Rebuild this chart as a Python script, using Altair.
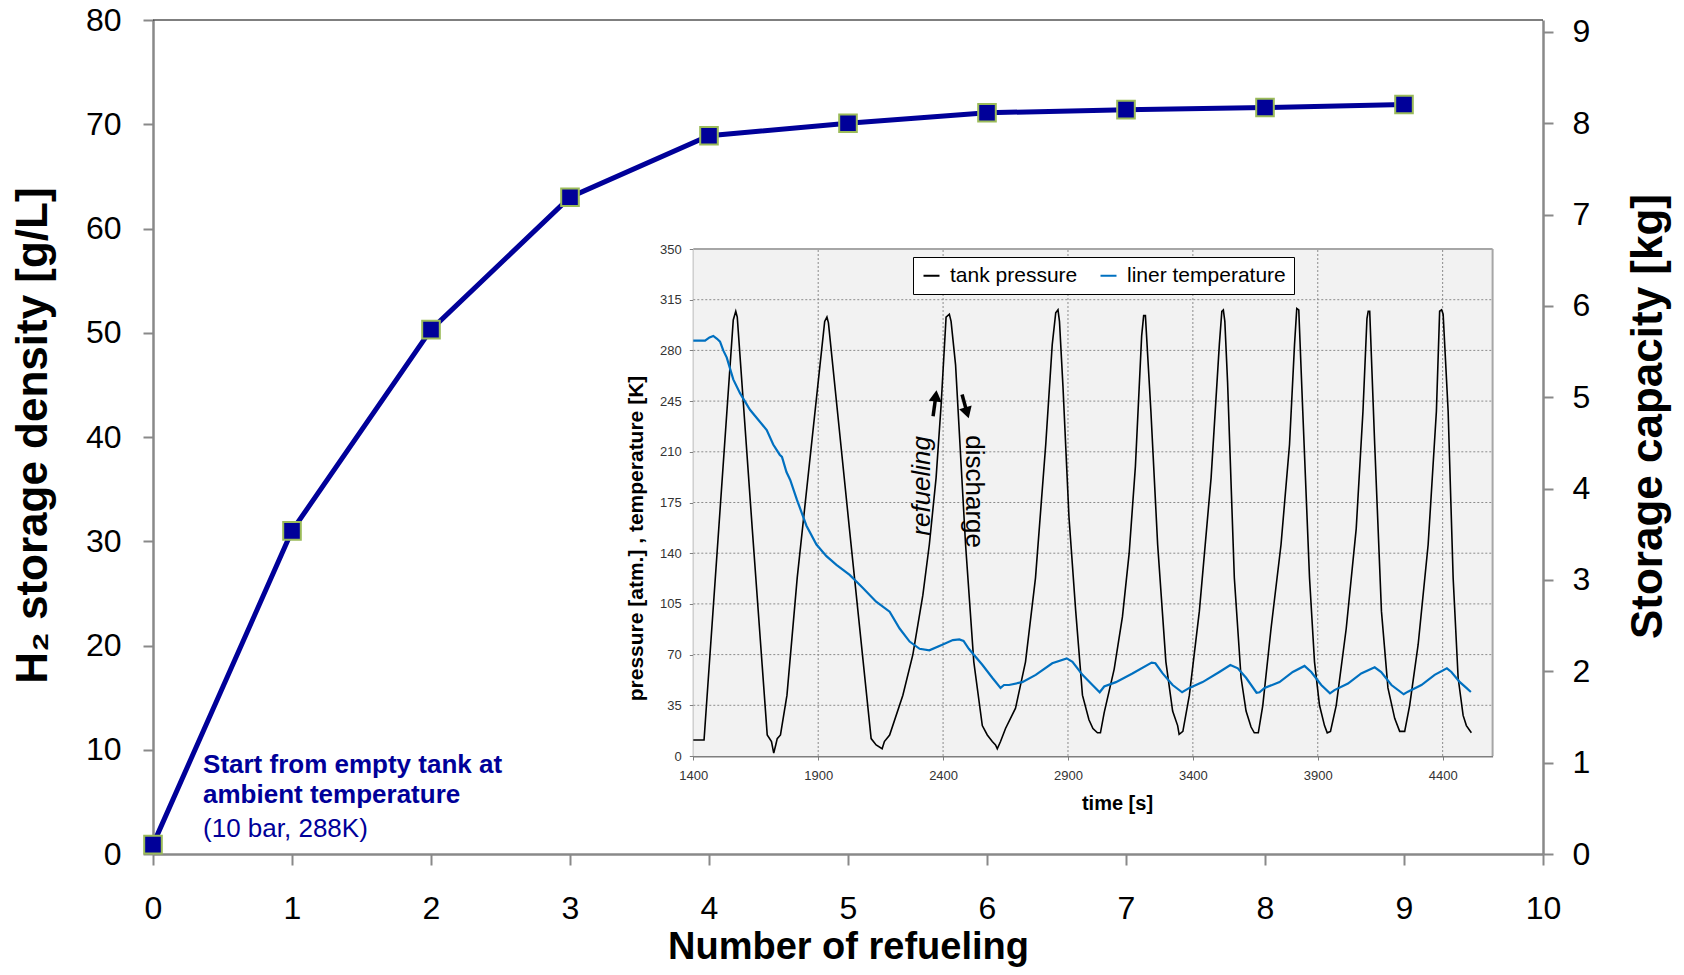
import altair as alt
import pandas as pd

FONT = "Liberation Sans"
NAVY = "#000099"
AX_GRAY = "#898989"

# ---------------- main chart data ----------------
refuel_count = [0, 1, 2, 3, 4, 5, 6, 7, 8, 9]
storage_density = [0.9, 31.0, 50.3, 63.0, 68.9, 70.1, 71.1, 71.4, 71.6, 71.9]
refuel_ticks = [0, 1, 2, 3, 4, 5, 6, 7, 8, 9, 10]
density_ticks = [0, 10, 20, 30, 40, 50, 60, 70, 80]
capacity_ticks = [0, 1, 2, 3, 4, 5, 6, 7, 8, 9]

note_bold = ["Start from empty tank at", "ambient temperature"]
note_bold_y = [7.8, 4.85]
note_plain = ["(10 bar, 288K)"]
note_plain_y = [1.6]
note_x = 0.36

# ---------------- inset data ----------------
pressure_points = [
    (1400, 11), (1443, 11), (1560, 301), (1570, 307), (1576, 303), (1636, 157),
    (1696, 14.5), (1713, 10), (1722, 2), (1730, 7.6), (1736, 12), (1749, 14.5),
    (1775, 42), (1816, 123), (1926, 300), (1935, 303), (1941, 299), (2025, 157),
    (2112, 12), (2132, 7.6), (2156, 5), (2165, 10), (2186, 14.5), (2239, 42),
    (2279, 70), (2319, 111), (2345, 146), (2372, 192), (2392, 242), (2412, 303),
    (2425, 305), (2432, 300), (2450, 270), (2490, 146), (2523, 65), (2557, 21),
    (2577, 14.5), (2597, 10), (2610, 7.6), (2617, 5), (2630, 10), (2650, 19),
    (2690, 33), (2730, 65), (2770, 123), (2811, 215), (2837, 284), (2851, 306),
    (2860, 308), (2866, 300), (2880, 255), (2904, 165), (2931, 100), (2958, 42),
    (2984, 25), (3000, 19), (3018, 16), (3030, 16), (3045, 30), (3085, 60),
    (3118, 96), (3145, 140), (3170, 200), (3195, 290), (3203, 304), (3210, 304),
    (3232, 238), (3259, 146), (3292, 65), (3319, 31), (3339, 21), (3345, 15),
    (3360, 17), (3386, 42), (3426, 100), (3473, 192), (3506, 284), (3516, 307),
    (3522, 308), (3528, 300), (3539, 258), (3566, 123), (3593, 54), (3613, 31),
    (3633, 20), (3646, 16), (3662, 16), (3680, 35), (3713, 88), (3753, 146),
    (3787, 215), (3807, 284), (3816, 309), (3824, 308), (3840, 238), (3867, 123),
    (3887, 65), (3907, 35), (3927, 21), (3938, 16), (3951, 17), (3974, 35),
    (4014, 88), (4054, 157), (4081, 238), (4097, 302), (4102, 307), (4108, 307),
    (4128, 215), (4155, 100), (4181, 47), (4208, 26), (4228, 17), (4248, 17),
    (4268, 35), (4302, 77), (4342, 146), (4375, 238), (4388, 307), (4396, 308),
    (4402, 305), (4422, 238), (4442, 123), (4462, 54), (4482, 28), (4495, 21),
    (4515, 16),
]
temperature_points = [
    (1400, 286.7), (1447, 286.7), (1465, 289), (1480, 290), (1495, 288),
    (1507, 286), (1520, 280), (1534, 275), (1560, 260), (1587, 250.5),
    (1627, 239), (1694, 225), (1720, 215), (1746, 208), (1755, 206.5),
    (1773, 196), (1788, 190.6), (1815, 176.8), (1853, 159), (1893, 146),
    (1933, 138), (1973, 132), (2026, 125), (2079, 116), (2132, 106.5),
    (2186, 99.6), (2226, 88), (2266, 79), (2306, 74), (2345, 73), (2399, 77),
    (2439, 80), (2465, 80.5), (2482, 79.5), (2503, 74), (2557, 63), (2597, 54),
    (2630, 47), (2644, 49), (2664, 49), (2717, 51), (2771, 56), (2837, 64),
    (2895, 67.4), (2918, 65), (2958, 56), (2998, 49), (3027, 44), (3045, 48),
    (3092, 51), (3158, 57), (3235, 64.5), (3250, 64), (3279, 57), (3319, 49),
    (3357, 44), (3386, 47), (3439, 51), (3506, 58), (3550, 62.8), (3580, 60.5),
    (3613, 54), (3655, 43.7), (3667, 44), (3687, 47), (3747, 51), (3800, 58),
    (3847, 62.2), (3874, 58), (3914, 49), (3949, 43.3), (3967, 45.5),
    (4021, 50), (4074, 57), (4128, 61.2), (4154, 58), (4195, 49), (4244, 42.6),
    (4261, 44.4), (4315, 49), (4368, 56), (4417, 60.5), (4435, 58), (4469, 51),
    (4495, 47), (4513, 44.2),
]
time_ticks = [1400, 1900, 2400, 2900, 3400, 3900, 4400]
time_domain = [1400, 4600]
value_ticks = [0, 35, 70, 105, 140, 175, 210, 245, 280, 315, 350]
value_domain = [0, 350]
series_names = ["tank pressure", "liner temperature"]
series_colors = ["#000000", "#0070C0"]

phase_text = ["refueling", "discharge"]
phase_t = [2316, 2523]
phase_v = [186.5, 182.5]
phase_angle = [270, 90]
phase_style = ["italic", "normal"]

arrow_tail_t = [2360, 2476]
arrow_tail_v = [234.5, 249.5]
arrow_head_t = [2371, 2496]
arrow_head_v = [248.6, 236.9]
arrow_angle = [7, 163]

# ---------------- frames ----------------
main_df = pd.DataFrame({"n": refuel_count, "d": storage_density})
bold_df = pd.DataFrame({"x": [note_x] * len(note_bold), "y": note_bold_y, "txt": note_bold})
plain_df = pd.DataFrame({"x": [note_x] * len(note_plain), "y": note_plain_y, "txt": note_plain})
cap_df = pd.DataFrame({"cap": capacity_ticks})

press_df = pd.DataFrame(pressure_points, columns=["t", "v"]).assign(series=series_names[0])
temp_df = pd.DataFrame(temperature_points, columns=["t", "v"]).assign(series=series_names[1])
frame_df = pd.DataFrame({"t0": [time_domain[0]], "t1": [time_domain[1]],
                         "v0": [value_domain[0]], "v1": [value_domain[1]]})
vgrid_df = pd.DataFrame({"t": time_ticks[1:]})
hgrid_df = pd.DataFrame({"v": value_ticks[1:-1]})
phase_df = pd.DataFrame({"t": phase_t, "v": phase_v, "txt": phase_text,
                         "ang": phase_angle, "sty": phase_style})
arrow_df = pd.DataFrame({"t0": arrow_tail_t, "v0": arrow_tail_v,
                         "t1": arrow_head_t, "v1": arrow_head_v, "ang": arrow_angle})

# ---------------- main chart ----------------
x_main = alt.Scale(domain=[0, 10], nice=False, zero=False)
y_main = alt.Scale(domain=[0, 80], nice=False, zero=False)
y_cap = alt.Scale(domain=[0, 9.13], nice=False, zero=False)

x_axis_main = alt.Axis(
    values=refuel_ticks, orient="bottom", title="Number of refueling", grid=False, format="d",
    domainColor=AX_GRAY, domainWidth=2.5, tickColor=AX_GRAY, tickWidth=2, tickSize=11,
    labelFont=FONT, labelFontSize=32, labelColor="black", labelPadding=28, labelFlush=False,
    titleFont=FONT, titleFontSize=38, titleFontWeight="bold", titleColor="black",
    titleX=695, titleY=104, titleAlign="center", titleBaseline="alphabetic")
y_axis_main = alt.Axis(
    values=density_ticks, orient="left", title="H\u2082 storage density [g/L]", grid=False,
    format="d",
    domainColor=AX_GRAY, domainWidth=2.5, tickColor=AX_GRAY, tickWidth=2, tickSize=10,
    labelFont=FONT, labelFontSize=32, labelColor="black", labelPadding=22,
    titleFont=FONT, titleFontSize=44, titleFontWeight="bold", titleColor="black",
    titleX=-120, titleY=415, titleAngle=270, titleAlign="center", titleBaseline="middle")
y_axis_cap = alt.Axis(
    values=capacity_ticks, orient="right", title="Storage capacity [kg]", grid=False,
    format="d",
    domainColor=AX_GRAY, domainWidth=2.5, tickColor=AX_GRAY, tickWidth=2, tickSize=10,
    labelFont=FONT, labelFontSize=32, labelColor="black", labelPadding=19,
    titleFont=FONT, titleFontSize=44, titleFontWeight="bold", titleColor="black",
    titleX=105, titleY=396, titleAngle=270, titleAlign="center", titleBaseline="middle")

main_line = alt.Chart(main_df).mark_line(color=NAVY, strokeWidth=5).encode(
    x=alt.X("n:Q", scale=x_main, axis=x_axis_main),
    y=alt.Y("d:Q", scale=y_main, axis=y_axis_main))
main_pts = alt.Chart(main_df).mark_square(
    size=310, fill=NAVY, stroke="#9BBB59", strokeWidth=2, opacity=1).encode(
    x="n:Q", y="d:Q")
top_rule = alt.Chart(frame_df).mark_rule(color="black", strokeWidth=1.2).encode(
    x=alt.datum(0), x2=alt.datum(10), y=alt.datum(80))
note_b = alt.Chart(bold_df).mark_text(
    font=FONT, fontSize=26, fontWeight="bold", color=NAVY, align="left",
    baseline="alphabetic").encode(x="x:Q", y="y:Q", text="txt:N")
note_p = alt.Chart(plain_df).mark_text(
    font=FONT, fontSize=26, color=NAVY, align="left",
    baseline="alphabetic").encode(x="x:Q", y="y:Q", text="txt:N")

main = alt.layer(main_line, main_pts, top_rule, note_b, note_p)

right = alt.Chart(cap_df).mark_point(opacity=0).encode(
    y=alt.Y("cap:Q", scale=y_cap, axis=y_axis_cap))

# ---------------- inset ----------------
x_in = alt.Scale(domain=time_domain, nice=False, zero=False, range=[540.3, 1339.6])
y_in = alt.Scale(domain=value_domain, nice=False, zero=False, range=[736, 229])
IN_AX = "#7F7F7F"
x_axis_in = alt.Axis(
    values=time_ticks, orient="bottom", offset=-98, format="d", grid=False,
    title="time [s]", domainColor=IN_AX, domainWidth=2, tickColor=IN_AX, tickSize=4,
    labelFont=FONT, labelFontSize=13, labelColor="#333333", labelPadding=9, labelFlush=False,
    titleFont=FONT, titleFontSize=20, titleFontWeight="bold", titleColor="black",
    titleX=964, titleY=47, titleAlign="center", titleBaseline="middle")
y_axis_in = alt.Axis(
    values=value_ticks, orient="left", offset=-540.3, format="d", grid=False,
    title="pressure [atm.] , temperature [K]", domainColor=IN_AX, domainWidth=2,
    tickColor=IN_AX, tickSize=4,
    labelFont=FONT, labelFontSize=13, labelColor="#333333", labelPadding=8,
    titleFont=FONT, titleFontSize=21, titleFontWeight="bold", titleColor="black",
    titleX=-57, titleY=518, titleAngle=270, titleAlign="center", titleBaseline="middle")

bg = alt.Chart(frame_df).mark_rect(fill="#F2F2F2").encode(
    x=alt.X("t0:Q", scale=x_in, axis=x_axis_in), x2="t1:Q",
    y=alt.Y("v0:Q", scale=y_in, axis=y_axis_in), y2="v1:Q")
vgrid = alt.Chart(vgrid_df).mark_rule(color="#8C8C8C", strokeWidth=1, strokeDash=[2, 2]).encode(
    x="t:Q", y=alt.datum(value_domain[0]), y2=alt.datum(value_domain[1]))
hgrid = alt.Chart(hgrid_df).mark_rule(color="#8C8C8C", strokeWidth=1, strokeDash=[2, 2]).encode(
    y="v:Q", x=alt.datum(time_domain[0]), x2=alt.datum(time_domain[1]))
top_b = alt.Chart(frame_df).mark_rule(color="#A6A6A6", strokeWidth=2).encode(
    x="t0:Q", x2="t1:Q", y="v1:Q")
right_b = alt.Chart(frame_df).mark_rule(color="#A6A6A6", strokeWidth=2).encode(
    x="t1:Q", y="v0:Q", y2="v1:Q")

legend = alt.Legend(
    orient="none", legendX=760, legendY=237, direction="horizontal", title=None,
    symbolType="stroke", symbolSize=256, symbolStrokeWidth=2, labelFont=FONT,
    labelFontSize=21, labelColor="black", strokeColor="black", fillColor="white",
    padding=8, columnPadding=18, labelOffset=8)
color_scale = alt.Scale(domain=series_names, range=series_colors)

press_line = alt.Chart(press_df).mark_line(strokeWidth=1.6).encode(
    x="t:Q", y="v:Q", color=alt.Color("series:N", scale=color_scale, legend=legend))
temp_line = alt.Chart(temp_df).mark_line(strokeWidth=2.2).encode(
    x="t:Q", y="v:Q", color=alt.Color("series:N"))

shafts = alt.Chart(arrow_df).mark_rule(color="black", strokeWidth=3.5).encode(
    x="t0:Q", y="v0:Q", x2="t1:Q", y2="v1:Q")
heads = alt.Chart(arrow_df).mark_point(
    shape="triangle-up", filled=True, color="black", size=170, opacity=1).encode(
    x="t1:Q", y="v1:Q", angle=alt.Angle("ang:Q", scale=None))
phase_labels = alt.Chart(phase_df).mark_text(
    font=FONT, fontSize=26, color="black", align="center", baseline="middle").encode(
    x="t:Q", y="v:Q", text="txt:N",
    angle=alt.Angle("ang:Q", scale=None))
phase_italic = phase_labels.transform_filter(alt.datum.sty == "italic").mark_text(
    font=FONT, fontSize=26, color="black", align="center", baseline="middle", fontStyle="italic")
phase_normal = phase_labels.transform_filter(alt.datum.sty == "normal")

inset = alt.layer(bg, hgrid, vgrid, top_b, right_b, press_line, temp_line,
                  shafts, heads, phase_italic, phase_normal)

chart = alt.layer(main, right, inset).resolve_scale(
    x="independent", y="independent"
).properties(
    width=1390, height=834,
    autosize=alt.AutoSizeParams(type="none"),
    padding={"left": 145, "top": 12, "right": 133, "bottom": 113},
    background="white",
).configure_view(stroke=None)

chart.save("out.html", embed_options={"renderer": "svg", "actions": False})
